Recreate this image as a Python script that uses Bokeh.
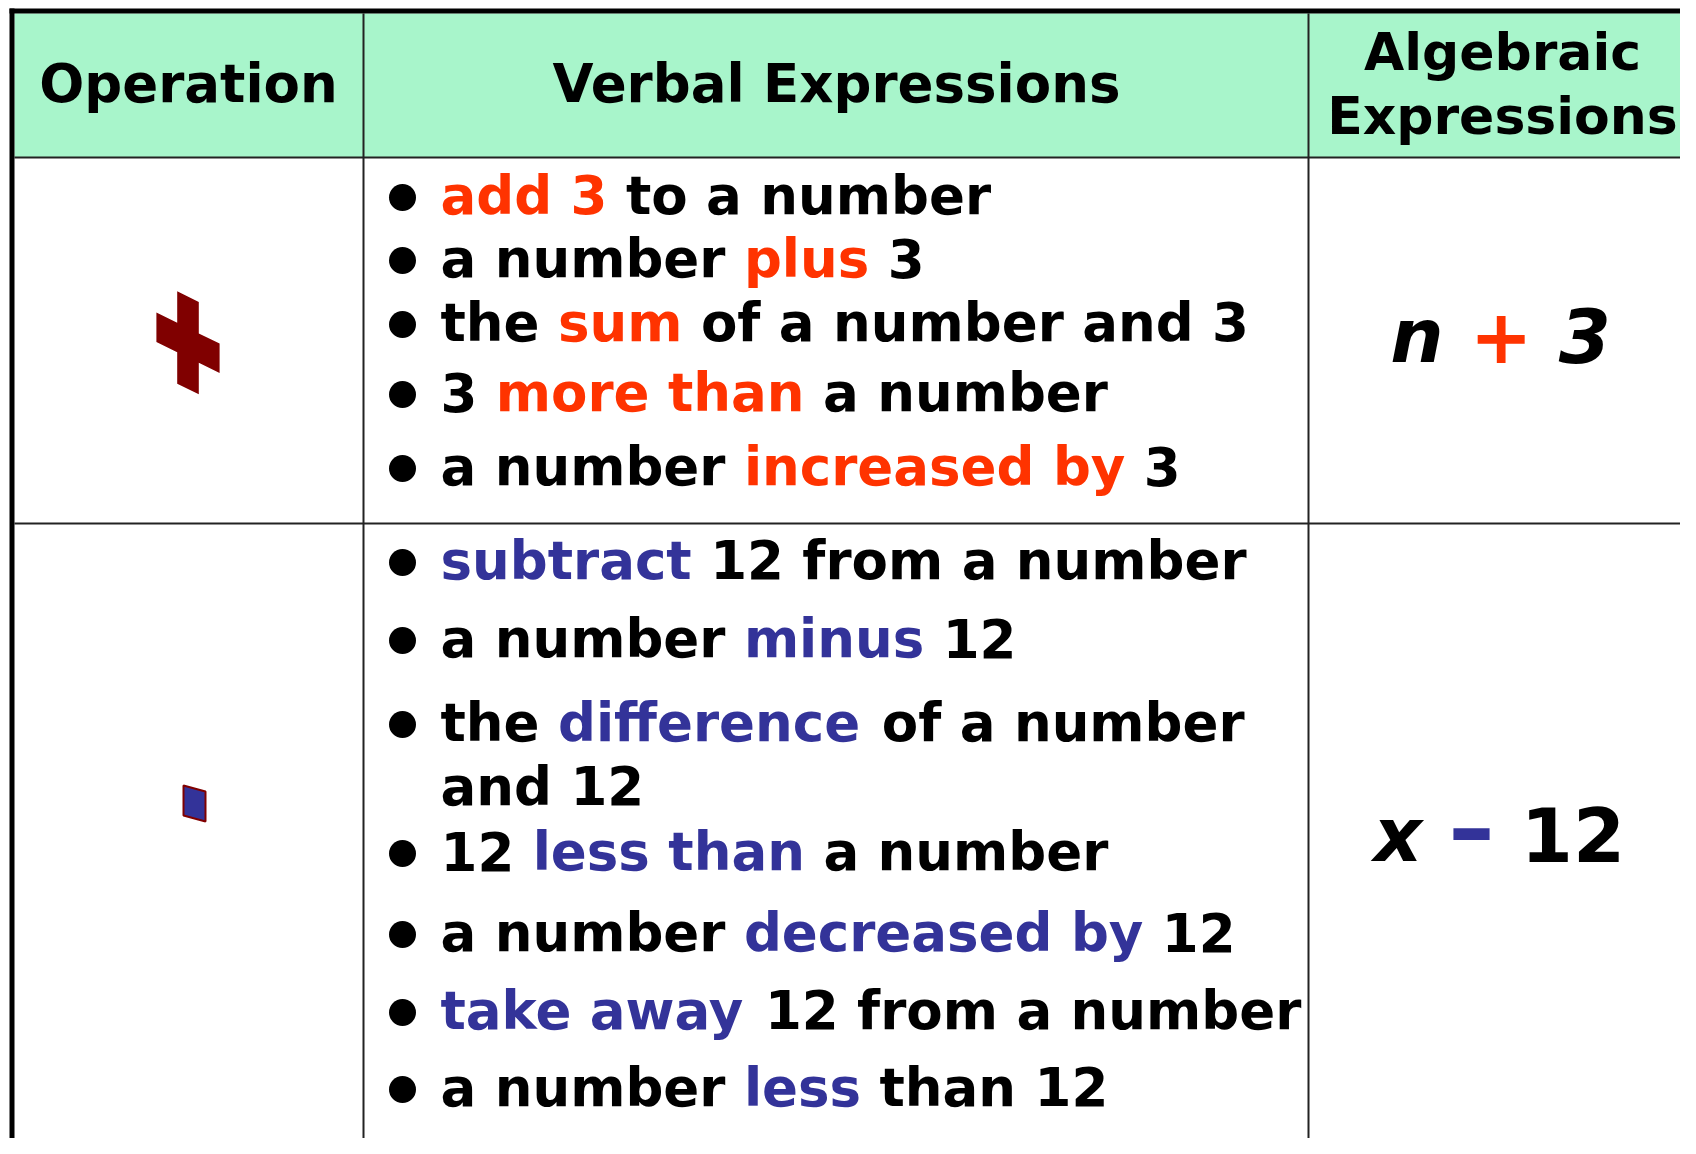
from bokeh.plotting import figure
from bokeh.models import Range1d, ColumnDataSource
from bokeh.core.properties import value
from bokeh.embed import file_html
from bokeh.resources import INLINE

# ---------------- content ----------------
HEADER_OPERATION = "Operation"
HEADER_VERBAL = "Verbal Expressions"
HEADER_ALGEBRAIC = ["Algebraic", "Expressions"]

# segments: (text, colour key)  "c" = highlight colour of the row, "k" = black
ADD_LINES = [
    [("add 3", "c"), (" to a number", "k")],
    [("a number ", "k"), ("plus", "c"), (" 3", "k")],
    [("the ", "k"), ("sum", "c"), (" of a number and 3", "k")],
    [("3 ", "k"), ("more than", "c"), (" a number", "k")],
    [("a number ", "k"), ("increased by", "c"), (" 3", "k")],
]
ADD_BULLETS = [1, 1, 1, 1, 1]

SUB_LINES = [
    [("subtract", "c"), (" 12 from a number", "k")],
    [("a number ", "k"), ("minus", "c"), (" 12", "k")],
    [("the ", "k"), ("difference", "c"), (" of a number", "k")],
    [("and 12", "k")],
    [("12 ", "k"), ("less than", "c"), (" a number", "k")],
    [("a number ", "k"), ("decreased by", "c"), (" 12", "k")],
    [("take away", "c"), (" 12 from a number", "k")],
    [("a number ", "k"), ("less", "c"), (" than 12", "k")],
]
SUB_BULLETS = [1, 1, 1, 0, 1, 1, 1, 1]

# (text, colour key, font style, relative size)
ADD_EXPR = [("n ", "k", "bold italic", 1.0), ("+", "c", "bold", 1.0), (" 3", "k", "bold italic", 1.0)]
SUB_EXPR = [("x ", "k", "bold italic", 1.0), ("\u2013", "c", "bold", 1.23), (" 12", "k", "bold", 1.0)]

# ---------------- styles ----------------
ADD_COLOR = "#FF3300"
SUB_COLOR = "#333399"
HEADER_FILL = "#A8F5CB"
CROSS_COLOR = "#800000"
FONT = "DejaVu Sans"
BODY_PX = 53
HEAD_PX = 53
ALG_PX = 52
EXPR_PX = 75
BASELINE_FIX = -0.37   # em, compensates the renderer's alphabetic-baseline offset

# ---------------- layout ----------------
W, H = 1680, 1138
COL_LINES = [363, 1308]
HEADER_TOP = 13
HEADER_BOTTOM = 157
ROW_LINE = 523
TEXT_X = 440
BULLET_X = 402
BULLET_RISE = 18
ADD_BASELINES = [215, 278, 342, 412, 486]
SUB_BASELINES = [580, 658, 742, 806, 871, 952, 1030, 1107]
HEADER_CENTERS = [188, 836, 1502]
HEADER_BASE = 103
ALG_BASES = [71, 135]
EXPR_CENTERS = [1500, 1499]
EXPR_BASES = [363, 862]

# icon geometry (local units, centre-relative)
CROSS_CENTER = (187.5, 342.3)
CROSS_DX = [-10.8, 10.8, 10.8, 31.6, 31.6, 10.8, 10.8, -10.8, -10.8, -31.6, -31.6, -10.8]
CROSS_DY = [-46.2, -46.2, -14.7, -14.7, 14.7, 14.7, 46.2, 46.2, 14.7, 14.7, -14.7, -14.7]
SHEAR = 0.49
MINUS_CENTER = (194, 803)
MINUS_DX = [-11, 11, 11, -11]
MINUS_DY = [-15, -15, 15, 15]

# DejaVu Sans Bold advance widths (1/2048 em)
ADV = {
    " ": 713, "a": 1382, "b": 1466, "c": 1214, "d": 1466, "e": 1389, "f": 891,
    "g": 1466, "h": 1458, "i": 702, "k": 1362, "l": 702, "m": 2134, "n": 1458,
    "o": 1407, "p": 1466, "r": 1010, "s": 1219, "t": 979, "u": 1458, "w": 1898,
    "x": 1327, "y": 1335, "1": 1425, "2": 1425, "3": 1425, "+": 1716, "\u2013": 1024,
}


def text_width(s, px):
    return sum(ADV.get(ch, 1400) for ch in s) / 2048.0 * px


p = figure(width=W, height=H, output_backend="svg", toolbar_location=None,
           x_range=Range1d(0, W), y_range=Range1d(H, 0),
           x_axis_location=None, y_axis_location=None, min_border=0)
p.grid.visible = False
p.outline_line_color = None
p.background_fill_color = "white"
p.border_fill_color = "white"

# header band
p.quad(left=[14], right=[W + 5], top=[HEADER_TOP], bottom=[HEADER_BOTTOM],
       fill_color=HEADER_FILL, line_color=None)

# grid lines
p.segment(x0=[14, 14], y0=[HEADER_BOTTOM, ROW_LINE], x1=[W, W],
          y1=[HEADER_BOTTOM, ROW_LINE], line_color="#222222", line_width=2)
p.segment(x0=COL_LINES, y0=[HEADER_TOP] * 2, x1=COL_LINES, y1=[H] * 2,
          line_color="#222222", line_width=2)
# thick outer border (top and left)
p.segment(x0=[9, 11.5], y0=[10.5, 8], x1=[W, 11.5], y1=[10.5, H],
          line_color="black", line_width=5)


def add_text(xs, ys, texts, colors, style, px, align="left"):
    ys = [y + BASELINE_FIX * px for y in ys]
    src = ColumnDataSource(dict(x=xs, y=ys, text=texts, color=colors))
    p.text(x="x", y="y", text="text", text_color="color", source=src,
           text_font=value(FONT), text_font_style=style,
           text_font_size=value(f"{px}px"), text_baseline="alphabetic",
           text_align=align)


def place_runs(x, segs, sizes):
    """Return (x, text) for each run; spaces advance the pen but are not drawn."""
    out = []
    for txt, px in zip(segs, sizes):
        lead = len(txt) - len(txt.lstrip(" "))
        x_start = x + text_width(txt[:lead], px)
        out.append((x_start, txt.strip(" ")))
        x += text_width(txt, px)
    return out, x


# headers
add_text([HEADER_CENTERS[0], HEADER_CENTERS[1]], [HEADER_BASE, HEADER_BASE],
         [HEADER_OPERATION, HEADER_VERBAL], ["black", "black"], "bold", HEAD_PX, "center")
add_text([HEADER_CENTERS[2]] * 2, ALG_BASES, HEADER_ALGEBRAIC, ["black", "black"],
         "bold", ALG_PX, "center")

# body lines
bx, by = [], []
sx, sy, st, sc = [], [], [], []
for lines, bullets, bases, hl in [(ADD_LINES, ADD_BULLETS, ADD_BASELINES, ADD_COLOR),
                                  (SUB_LINES, SUB_BULLETS, SUB_BASELINES, SUB_COLOR)]:
    for segs, bul, base in zip(lines, bullets, bases):
        if bul:
            bx.append(BULLET_X)
            by.append(base - BULLET_RISE)
        runs, _ = place_runs(TEXT_X, [t for t, _ in segs], [BODY_PX] * len(segs))
        for (rx, rt), (_, key) in zip(runs, segs):
            sx.append(rx)
            sy.append(base)
            st.append(rt)
            sc.append(hl if key == "c" else "black")
add_text(sx, sy, st, sc, "bold", BODY_PX)
p.scatter(x=bx, y=by, marker="circle", size=27, fill_color="black", line_color=None)

# algebraic expressions
for segs, base, hl, center in [(ADD_EXPR, EXPR_BASES[0], ADD_COLOR, EXPR_CENTERS[0]),
                               (SUB_EXPR, EXPR_BASES[1], SUB_COLOR, EXPR_CENTERS[1])]:
    sizes = [EXPR_PX * rel for _, _, _, rel in segs]
    total = sum(text_width(t, s) for (t, _, _, _), s in zip(segs, sizes))
    runs, _ = place_runs(center - total / 2, [t for t, _, _, _ in segs], sizes)
    for (rx, rt), (_, key, style, _), s in zip(runs, segs, sizes):
        add_text([rx], [base], [rt], [hl if key == "c" else "black"], style, round(s))

# operation icons
cx, cy = CROSS_CENTER
p.patch(x=[cx + dx for dx in CROSS_DX],
        y=[cy + dy + SHEAR * dx for dx, dy in zip(CROSS_DX, CROSS_DY)],
        fill_color=CROSS_COLOR, line_color=None)
mx, my = MINUS_CENTER
p.patch(x=[mx + dx for dx in MINUS_DX],
        y=[my + dy + 0.27 * dx for dx, dy in zip(MINUS_DX, MINUS_DY)],
        fill_color=SUB_COLOR, line_color=CROSS_COLOR, line_width=2)

open("out.html", "w").write(file_html(p, INLINE))
